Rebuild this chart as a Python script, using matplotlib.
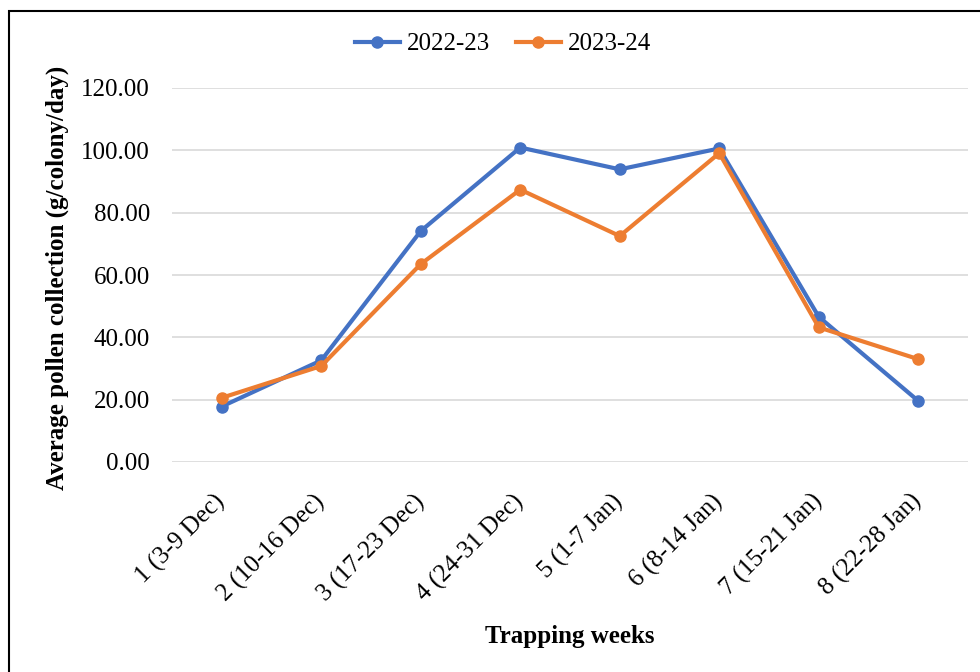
import numpy as np
import matplotlib.pyplot as plt
from matplotlib.patches import Rectangle

weeks = ["1 (3-9 Dec)", "2 (10-16 Dec)", "3 (17-23 Dec)", "4 (24-31 Dec)",
         "5 (1-7 Jan)", "6 (8-14 Jan)", "7 (15-21 Jan)", "8 (22-28 Jan)"]
season_2022 = [17.8, 32.6, 74.1, 100.9, 93.9, 100.6, 46.6, 19.6]
season_2023 = [20.6, 30.8, 63.5, 87.4, 72.5, 99.1, 43.2, 33.0]
yticks = [0, 20, 40, 60, 80, 100, 120]

plt.rcParams['font.family'] = ['Liberation Serif', 'DejaVu Serif']

fig = plt.figure(figsize=(9.8, 6.72), dpi=100)
ax = fig.add_axes([172/980, 1 - 462/672, (968 - 172)/980, (462 - 88)/672])

x = np.arange(len(weeks))
ax.plot(x, season_2022, color='#4472C4', lw=3, marker='o', ms=8, label='2022-23', zorder=3)
ax.plot(x, season_2023, color='#ED7D31', lw=3, marker='o', ms=8, label='2023-24', zorder=3)

ax.set_xlim(-0.5, len(weeks) - 0.5)
ax.set_ylim(0, 120)
ax.set_yticks(yticks)
ax.set_yticklabels([f"{v:.2f}" for v in yticks], fontsize=18)
ax.set_xticks(x)
ax.set_xticklabels(weeks, fontsize=18, rotation=45, ha='right', va='center', rotation_mode='anchor')
ax.tick_params(length=0)
ax.tick_params(axis='x', pad=26)
ax.tick_params(axis='y', pad=16)
ax.grid(axis='y', color='#d9d9d9', lw=1.2)
ax.set_axisbelow(True)
for s in ax.spines.values():
    s.set_visible(False)

fig.text(57/980, 1 - 278/672, "Average pollen collection (g/colony/day)", rotation=90,
         ha='center', va='center', fontsize=18, fontweight='bold')
fig.text(570/980, 1 - 637/672, "Trapping weeks", ha='center', va='center',
         fontsize=18, fontweight='bold')

ax.legend(loc='center', bbox_to_anchor=(503/980, 1 - 44/672), bbox_transform=fig.transFigure,
          ncol=2, frameon=False, fontsize=18, handlelength=1.8, columnspacing=1.0, handletextpad=0.3)

fig.patches.append(Rectangle((8.5/980, -0.1), 1.1, 1 - 10.5/672 + 0.1, transform=fig.transFigure,
                             fill=False, edgecolor='black', lw=1.5))

fig.savefig('out.png', dpi=100)
